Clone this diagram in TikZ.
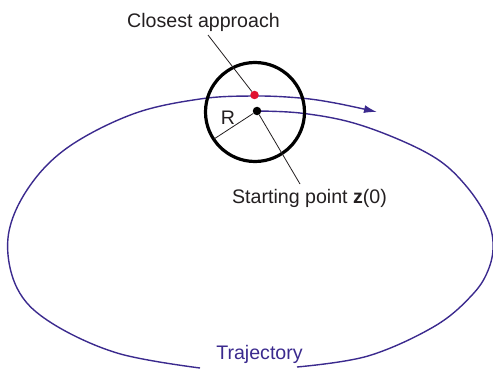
\documentclass[tikz,border=0pt]{standalone}
\usepackage{fontspec}
\setmainfont{Liberation Sans}
\usetikzlibrary{arrows.meta,calc}
\definecolor{trajcol}{HTML}{3B2A8E}
\definecolor{dotred}{HTML}{E0122F}
\definecolor{txt}{HTML}{231F20}
\begin{document}
\begin{tikzpicture}[x=1pt,y=-1pt,
  every node/.style={font=\fontsize{19.6}{23}\selectfont, text=txt, inner sep=0pt},
  traj/.style={draw=trajcol, line width=1.4pt},
  thinline/.style={draw=txt, line width=0.8pt},
  dotnode/.style={circle, minimum size=8.5pt, inner sep=0pt}]
\useasboundingbox (0,0) rectangle (493,369);
% trajectory, part from start round the right to the bottom
\draw[traj] plot[smooth, tension=0.6] coordinates {(257,111) (300,113) (350,122) (400,140) (440,161) (467,187) (486,216) (493,242) (489,268) (473,294) (435,326) (368,356) (297,367)};
% trajectory, from bottom round the left, over the top, to the arrow
\draw[traj, -{Latex[length=13pt,width=8pt]}] plot[smooth, tension=0.6] coordinates {(200,368) (117,353) (50,322) (17,288) (8,238) (27,190) (67,148) (133,114) (200,99) (254,96) (300,98) (335,103) (377,112)};
% circle of radius R
\node[circle, draw=black, line width=3.2pt, minimum size=99pt] (disk) at (255,112) {};
% dots
\node[dotnode, fill=black] (start) at (257,111) {};
\node[dotnode, fill=dotred] (close) at (254.5,95) {};
% radius
\coordinate (rend) at (214,139);
\draw[thinline] (start) -- (rend);
\node (R) at (228,118) {R};
% labels
\node[anchor=base] (ca) at (203.5,28) {Closest approach};
\coordinate (caend) at (208,35);
\draw[thinline] (caend) -- (close);
\node[anchor=base] (sp) at (309.5,203) {Starting point \textbf{z}(0)};
\coordinate (spend) at (300,184);
\draw[thinline] (start) -- (spend);
\node[anchor=base, text=trajcol] (tr) at (259.5,359) {Trajectory};
\end{tikzpicture}
\end{document}
